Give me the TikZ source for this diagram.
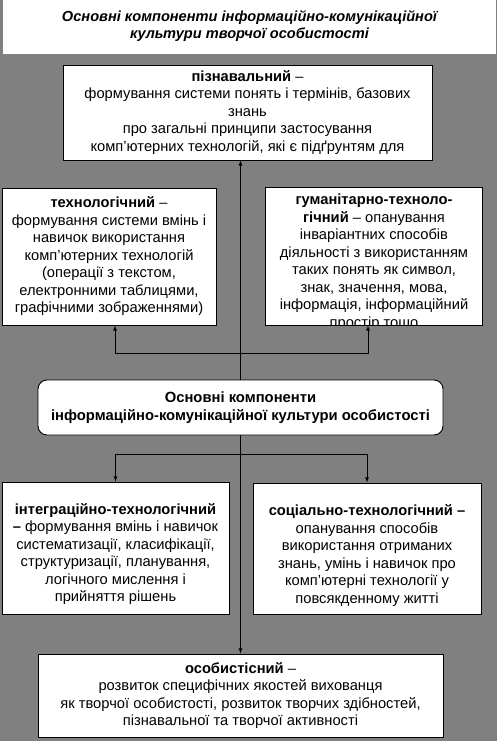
\documentclass[tikz,border=0pt]{standalone}
\usepackage{fontspec}
\setmainfont{Liberation Sans}
\usepackage{tikz}
\usetikzlibrary{arrows.meta,positioning}
\definecolor{fongray}{HTML}{808080}
\tikzset{
  komp/.style={draw=black, fill=white, line width=0.9pt, align=center, inner sep=0pt,
    font=\fontsize{14.7}{17.5}\selectfont},
  tekst/.style={align=center, inner sep=0pt, font=\fontsize{14.7}{17.5}\selectfont},
  zv/.style={line width=0.8pt},
}

\begin{document}
\begin{tikzpicture}[x=1pt,y=-1pt]
      % background
      \fill[fongray] (0,0) rectangle (497,741);
      \useasboundingbox (0,0) rectangle (497,741);
      % title
      \node[fill=white, minimum width=493pt, minimum height=57pt, inner sep=0pt, align=center,
        font=\fontsize{14.6}{17}\selectfont\bfseries\itshape] (nazva) at (249.5,26)
        {Основні компоненти інформаційно-комунікаційної\\культури творчої особистості};
      % upper boxes
      \node[komp, minimum width=369pt, minimum height=95pt] (piz) at (247.5,112.5)
        {\textbf{пізнавальний} –\\формування системи понять і термінів, базових\\знань\\про загальні принципи застосування\\комп'ютерних технологій, які є підґрунтям для};
      \node[komp, minimum width=214pt, minimum height=137pt] (tech) at (109,256.5)
        {\textbf{технологічний} –\\формування системи вмінь і\\навичок використання\\комп'ютерних технологій\\(операції з текстом,\\електронними таблицями,\\графічними зображеннями)};
      \node[komp, draw=none, minimum width=216pt, minimum height=137pt] (hum) at (374,256.5) {};
      \begin{scope}
        \clip (hum.south west) rectangle (hum.north east);
        \node[tekst] (humtxt) at (374,262)
          {\textbf{гуманітарно-техноло-}\\\textbf{гічний} – опанування\\інваріантних способів\\діяльності з використанням\\таких понять як символ,\\знак, значення, мова,\\інформація, інформаційний\\простір тощо};
      \end{scope}
      \draw[line width=0.9pt] (hum.south west) rectangle (hum.north east);
      % centre
      \node[komp, rounded corners=9pt, minimum width=405pt, minimum height=55pt,
        font=\fontsize{14.8}{18}\selectfont\bfseries] (osn) at (240.5,407.5)
        {Основні компоненти\\інформаційно-комунікаційної культури особистості};
      % lower boxes
      \node[komp, minimum width=227pt, minimum height=132pt] (integr) at (115.5,548) {};
      \node[tekst] (integrtxt) at ([yshift=-6pt]integr.center)
        {\textbf{інтеграційно-технологічний}\\\textbf{–} формування вмінь і навичок\\систематизації, класифікації,\\структуризації, планування,\\логічного мислення і\\прийняття рішень};
      \node[komp, minimum width=228pt, minimum height=131pt] (soc) at (367,548.5) {};
      \node[tekst] (soctxt) at ([yshift=-7pt]soc.center)
        {\textbf{соціально-технологічний –}\\опанування способів\\використання отриманих\\знань, умінь і навичок про\\комп'ютерні технології у\\повсякденному житті};
      \node[komp, minimum width=405pt, minimum height=83pt] (osob) at (240.5,695.5)
        {\textbf{особистісний} –\\розвиток специфічних якостей вихованця\\як творчої особистості, розвиток творчих здібностей,\\пізнавальної та творчої активності};
      % connectors up
      \coordinate (rozv1) at (240.5,353);
      \draw[zv,-latex] (osn.north) -- (osn.north |- piz.south);
      \draw[zv,-latex] (rozv1) -| ([xshift=6pt]tech.south);
      \draw[zv,-latex] (rozv1) -| ([xshift=-6pt]hum.south);
      % connectors down
      \coordinate (rozv2) at (240.5,454);
      \draw[zv,-latex] (osn.south) -- (osob.north);
      \draw[zv,-latex] (rozv2) -| (integr.north);
      \draw[zv,-latex] (rozv2) -| (soc.north);
    \end{tikzpicture}
\end{document}
